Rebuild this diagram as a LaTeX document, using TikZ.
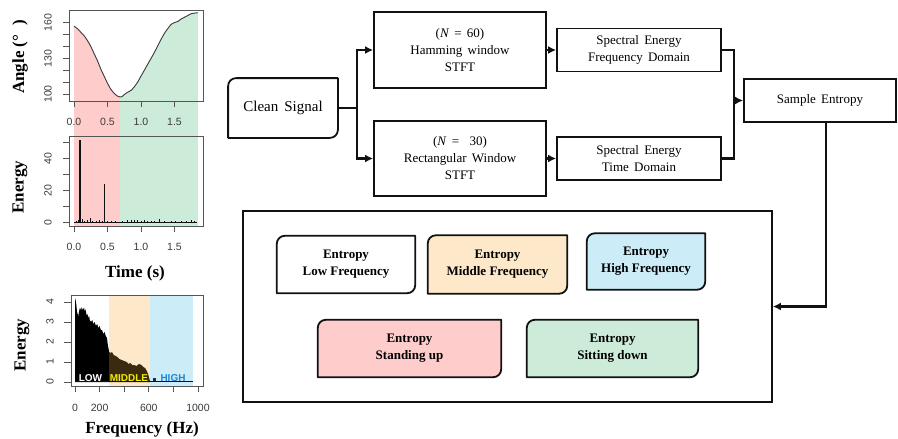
\documentclass[tikz,border=0pt]{standalone}
\usepackage{fontspec}
\setmainfont{Liberation Serif}
\newfontfamily\flowfont[WordSpace=1.6]{Liberation Serif}
\newfontfamily\plotfont{Liberation Sans}
\usetikzlibrary{arrows.meta,backgrounds,calc}

\definecolor{ink}{HTML}{111111}
\definecolor{shadePink}{HTML}{FFCCCC}
\definecolor{shadeGreen}{HTML}{CCEBD8}
\definecolor{shadePeach}{HTML}{FDE8C9}
\definecolor{shadeBlue}{HTML}{CCECF8}
\definecolor{axisgray}{HTML}{555555}
\definecolor{labelgray}{HTML}{3A3A3A}
\definecolor{midBrown}{HTML}{3A2A10}
\definecolor{lblYellow}{HTML}{F0EC00}
\definecolor{lblBlue}{HTML}{1F86D6}
\definecolor{tinyNavy}{HTML}{1A3040}

\tikzset{
  flowbox/.style={draw=ink, line width=1.8pt, align=center, inner sep=2pt,
    font=\flowfont\fontsize{13}{17}\selectfont},
  softbox/.style={align=center, inner sep=0pt,
    font=\bfseries\fontsize{13}{17}\selectfont},
  link/.style={draw=ink, line width=2.4pt},
  arrowlink/.style={link, -{Latex[length=8pt,width=8pt]}},
  plotframe/.style={draw=axisgray, line width=0.8pt},
  tickline/.style={draw=axisgray, line width=0.7pt},
  ticklabel/.style={font=\plotfont\fontsize{10.5}{12}\selectfont, text=labelgray, inner sep=0pt},
  axistitle/.style={font=\bfseries\fontsize{17}{20}\selectfont, inner sep=0pt},
  bandlabel/.style={font=\plotfont\bfseries\fontsize{10}{12}\selectfont, inner sep=0pt},
}

% box with rounded top-left and bottom-right corners, drawn behind its node
\newcommand\cornerbox[2]{%
  \begin{scope}[on background layer]
    \draw[draw=ink, line width=1.8pt, fill=#1, line join=round]
      (#2.south west) -- ([yshift=-8pt]#2.north west)
      arc[start angle=180, end angle=90, radius=8pt]
      -- (#2.north east) -- ([yshift=8pt]#2.south east)
      arc[start angle=0, end angle=-90, radius=8pt] -- cycle;
  \end{scope}}

\begin{document}
\begin{tikzpicture}[x=1pt, y=-1pt]
\begin{scope}[on background layer]
  \fill[white] (0,0) rectangle (898,439);
\end{scope}
\useasboundingbox (0,0) rectangle (898,439);

% ---------- knee angle with standing / sitting phases ----------
\begin{scope}[shift={(74,94)}, x=67pt, y=1.19pt]
  \fill[shadePink] (0,-110.9) -- plot coordinates {(0,57) (0.05,55) (0.1,52) (0.15,49)
    (0.2,45) (0.25,40) (0.3,34) (0.35,28) (0.4,21) (0.45,15) (0.5,9) (0.55,4)
    (0.6,0.5) (0.65,-1.8) (0.687,-2.5)} -- (0.687,-110.9) -- cycle;
  \fill[shadeGreen] (0.687,-110.9) -- plot coordinates {(0.687,-2.5) (0.72,-2.2)
    (0.75,-0.5) (0.8,1.5) (0.85,3) (0.9,6) (0.95,10) (1.0,15) (1.05,20) (1.1,25)
    (1.2,35) (1.3,46) (1.35,51) (1.4,55) (1.45,58.5) (1.5,60) (1.55,61) (1.6,63)
    (1.7,66) (1.75,67.5) (1.8,68) (1.85,68.3)} -- (1.85,-110.9) -- cycle;
  \draw[labelgray, line width=0.9pt, line join=round] plot[smooth, tension=0.4] coordinates {
    (0,57) (0.05,55) (0.1,52) (0.15,49) (0.2,45) (0.25,40) (0.3,34) (0.35,28)
    (0.4,21) (0.45,15) (0.5,9) (0.55,4) (0.6,0.5) (0.65,-1.8) (0.687,-2.5)
    (0.72,-2.2) (0.75,-0.5) (0.8,1.5) (0.85,3) (0.9,6) (0.95,10) (1.0,15)
    (1.05,20) (1.1,25) (1.2,35) (1.3,46) (1.35,51) (1.4,55) (1.45,58.5) (1.5,60)
    (1.55,61) (1.6,63) (1.7,66) (1.75,67.5) (1.8,68) (1.85,68.3)};
\end{scope}

\draw[plotframe] (69,10) rectangle (203,101);
\foreach \a in {0,10,...,60} \draw[tickline] (63,{94-1.19*\a}) -- (69,{94-1.19*\a});
\foreach \v/\lab in {0/100,30/130,60/160}
  \node[ticklabel, rotate=90] at (48,{94-1.19*\v}) {\lab};
\draw[tickline] (74,101) -- (174.5,101);
\foreach \t/\lab in {0/0.0,0.5/0.5,1/1.0,1.5/1.5} {
  \draw[tickline] ({74+67*\t},101) -- ({74+67*\t},107);
  \node[ticklabel] at ({74+67*\t},122) {\lab};
}
\node[axistitle, rotate=90] (angleTitle) at (20,57) {Angle (°\hspace{9pt})};

% ---------- energy over time ----------
\begin{scope}[shift={(74,222.3)}, x=67pt, y=1.59pt]
  \draw[ink, line width=0.6pt] (0,0.3) -- (1.83,0.3);
  \foreach \t/\h in {0.03/1,0.06/1.5,0.12/2,0.15/1,0.2/1.5,0.25/2.5,0.28/1,0.33/1,
      0.38/1.5,0.42/1,0.5/1,0.55/0.8,0.62/1,0.72/0.8,0.8/1.2,0.85/1.5,0.9/1.2,
      0.95/1.3,1.0/1,1.05/1.5,1.1/1,1.15/0.8,1.2/1,1.28/2,1.35/1,1.45/1,1.52/0.8,
      1.6/1,1.68/0.8,1.75/1.2,1.8/0.8}
    \draw[ink, line width=0.7pt] (\t,0) -- (\t,\h);
  \draw[ink, line width=1.1pt] (0.09,0) -- (0.09,52);
  \draw[ink, line width=1.1pt] (0.46,0) -- (0.46,24);
\end{scope}

\draw[plotframe] (69,136) rectangle (203,226);
\foreach \v in {0,10,...,50} \draw[tickline] (63,{222.3-1.59*\v}) -- (69,{222.3-1.59*\v});
\foreach \v in {0,20,40}
  \node[ticklabel, rotate=90] at (48,{222.3-1.59*\v}) {\v};
\draw[tickline] (74,226) -- (174.5,226);
\foreach \t/\lab in {0/0.0,0.5/0.5,1/1.0,1.5/1.5} {
  \draw[tickline] ({74+67*\t},226) -- ({74+67*\t},232);
  \node[ticklabel] at ({74+67*\t},247) {\lab};
}
\node[axistitle, rotate=90] (energyTitleA) at (20,187) {Energy};
\node[axistitle] (timeTitle) at (135,273) {Time (s)};

% ---------- energy spectrum with frequency bands ----------
\begin{scope}[shift={(75,382)}, x=0.123pt, y=20pt]
  \fill[shadePeach] (278,-0.2) rectangle (610,4.35);
  \fill[shadeBlue] (610,-0.2) rectangle (960,4.35);
  \fill[black] (0,0) -- plot coordinates {(0,4.2) (5,4.1) (10,3.9) (15,3.6) (20,3.3)
    (25,3.5) (30,3.2) (35,3.6) (40,3.7) (50,3.6) (55,3.75) (60,3.6) (70,3.7)
    (75,3.5) (80,3.7) (90,3.5) (95,3.3) (100,3.4) (110,3.2) (115,3.3) (120,3.1)
    (130,3.0) (140,3.1) (150,2.9) (160,3.0) (170,2.8) (180,2.9) (190,2.7)
    (200,2.8) (210,2.6) (220,2.6) (230,2.4) (240,2.5) (250,2.3) (260,2.2)
    (268,1.8) (275,1.6) (278,1.5)} -- (278,0) -- cycle;
  \fill[midBrown] (278,0) -- plot coordinates {(278,1.5) (290,1.45) (300,1.5)
    (315,1.35) (330,1.3) (345,1.25) (360,1.15) (380,1.1) (400,1.05) (420,1.0)
    (435,0.9) (450,0.95) (465,0.85) (480,0.85) (500,0.8) (510,0.85) (520,0.9)
    (540,0.85) (555,0.75) (570,0.7) (580,0.6) (595,0.4) (605,0.15) (612,0)}
    -- cycle;
  \fill[tinyNavy] (634,0) rectangle (659,0.18);
  \draw[ink, line width=0.6pt] (0,0.05) -- (960,0.05);
\end{scope}
\node[bandlabel, text=white] (lowLabel) at (90.5,378) {LOW};
\node[bandlabel, text=lblYellow] (midLabel) at (129,378) {MIDDLE};
\node[bandlabel, text=lblBlue] (highLabel) at (173,378) {HIGH};

\draw[plotframe] (71,295) rectangle (203,386);
\foreach \v in {0,...,4} {
  \draw[tickline] (64,{382-20*\v}) -- (71,{382-20*\v});
  \node[ticklabel, rotate=90] at (50,{382-20*\v}) {\v};
}
\draw[tickline] (75,386) -- (198,386);
\foreach \f in {0,200,...,1000} \draw[tickline] ({75+0.123*\f},386) -- ({75+0.123*\f},392);
\foreach \f in {0,200,600,1000} \node[ticklabel] at ({75+0.123*\f},408) {\f};
\node[axistitle, rotate=90] (energyTitleB) at (22,345) {Energy};
\node[axistitle] (freqTitle) at (142,429) {Frequency (Hz)};

% ---------- processing chain ----------
\node[flowbox, draw=none, minimum width=108pt, minimum height=58pt,
  font=\flowfont\fontsize{15}{18}\selectfont] (clean) at (283,108) {Clean Signal};
\cornerbox{white}{clean}

\node[flowbox, minimum width=172pt, minimum height=76pt] (ham) at (460,50)
  {(\textit{N} = 60)\\Hamming window\\STFT};
\node[flowbox, minimum width=172pt, minimum height=75pt] (rectw) at (460,158.5)
  {(\textit{N} =\ \ 30)\\Rectangular Window\\STFT};
\node[flowbox, minimum width=164pt, minimum height=43pt] (freqE) at (639,50)
  {Spectral Energy\\Frequency Domain};
\node[flowbox, minimum width=164pt, minimum height=43pt] (timeE) at (639,158.5)
  {Spectral Energy\\Time Domain};
\node[flowbox, minimum width=152pt, minimum height=43pt] (sampen) at (820,100.5)
  {Sample Entropy};

\node[draw=ink, line width=1.8pt, minimum width=529pt, minimum height=191pt]
  (bigbox) at (507.5,306.5) {};

\node[softbox, minimum width=138pt, minimum height=57pt] (low) at (346,264.5)
  {Entropy\\Low Frequency};
\cornerbox{white}{low}
\node[softbox, minimum width=139pt, minimum height=58pt] (mid) at (497.5,264.5)
  {Entropy\\Middle Frequency};
\cornerbox{shadePeach}{mid}
\node[softbox, minimum width=118pt, minimum height=56pt] (high) at (646,261.5)
  {Entropy\\High Frequency};
\cornerbox{shadeBlue}{high}
\node[softbox, minimum width=183pt, minimum height=57pt] (stand) at (409.5,348.5)
  {Entropy\\Standing up};
\cornerbox{shadePink}{stand}
\node[softbox, minimum width=171pt, minimum height=57pt] (sit) at (612.5,348.5)
  {Entropy\\Sitting down};
\cornerbox{shadeGreen}{sit}

% connectors
\draw[link] (clean.east) -- ++(19,0) coordinate (split);
\draw[arrowlink] (split) |- (ham.west);
\draw[arrowlink] (split) |- (rectw.west);
\draw[arrowlink] (ham.east) -- (freqE.west);
\draw[arrowlink] (rectw.east) -- (timeE.west);
\draw[link] (freqE.east) -- ++(12,0) coordinate (merge) |- (timeE.east);
\draw[arrowlink] (sampen.west -| merge) -- (sampen.west);
\draw[arrowlink] ([xshift=6pt]sampen.south) |- (bigbox.east);
\end{tikzpicture}
\end{document}
